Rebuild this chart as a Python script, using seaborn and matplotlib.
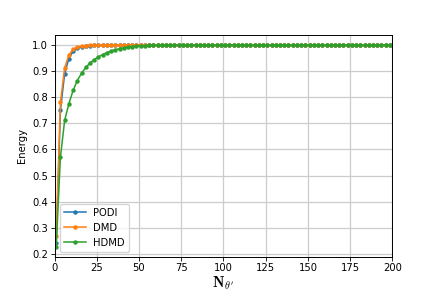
import numpy as np
import pandas as pd
import seaborn as sns
import matplotlib.pyplot as plt

plt.rcParams['mathtext.fontset'] = 'cm'

# number of modes (sampled every 2.5)
n_modes = np.arange(1, 201, 2.5)

podi = [0.24, 0.75, 0.89, 0.948, 0.976, 0.988, 0.994, 0.997, 0.998, 0.999,
        0.9995, 0.9997, 0.9998, 0.9999, 1.0, 1.0, 1.0, 1.0, 1.0, 1.0,
        1.0, 1.0, 1.0, 1.0, 1.0, 1.0, 1.0, 1.0, 1.0, 1.0,
        1.0, 1.0, 1.0, 1.0, 1.0, 1.0, 1.0, 1.0, 1.0, 1.0,
        1.0, 1.0, 1.0, 1.0, 1.0, 1.0, 1.0, 1.0, 1.0, 1.0,
        1.0, 1.0, 1.0, 1.0, 1.0, 1.0, 1.0, 1.0, 1.0, 1.0,
        1.0, 1.0, 1.0, 1.0, 1.0, 1.0, 1.0, 1.0, 1.0, 1.0,
        1.0, 1.0, 1.0, 1.0, 1.0, 1.0, 1.0, 1.0, 1.0, 1.0]

dmd = [0.27, 0.78, 0.912, 0.962, 0.983, 0.992, 0.996, 0.998, 0.999, 0.9995,
       0.9997, 0.9998, 0.9999, 1.0, 1.0, 1.0, 1.0, 1.0, 1.0, 1.0,
       1.0, 1.0, 1.0, 1.0, 1.0, 1.0, 1.0, 1.0, 1.0, 1.0,
       1.0, 1.0, 1.0, 1.0, 1.0, 1.0, 1.0, 1.0, 1.0, 1.0,
       1.0, 1.0, 1.0, 1.0, 1.0, 1.0, 1.0, 1.0, 1.0, 1.0,
       1.0, 1.0, 1.0, 1.0, 1.0, 1.0, 1.0, 1.0, 1.0, 1.0,
       1.0, 1.0, 1.0, 1.0, 1.0, 1.0, 1.0, 1.0, 1.0, 1.0,
       1.0, 1.0, 1.0, 1.0, 1.0, 1.0, 1.0, 1.0, 1.0, 1.0]

hdmd = [0.227, 0.57, 0.711, 0.775, 0.826, 0.864, 0.892, 0.914, 0.931, 0.944,
        0.955, 0.963, 0.971, 0.977, 0.982, 0.986, 0.989, 0.992, 0.994, 0.9955,
        0.9966, 0.9975, 0.9982, 0.9987, 0.9991, 0.9994, 0.9996, 0.9997, 0.9998, 0.9998,
        0.9999, 0.9999, 0.9999, 1.0, 1.0, 1.0, 1.0, 1.0, 1.0, 1.0,
        1.0, 1.0, 1.0, 1.0, 1.0, 1.0, 1.0, 1.0, 1.0, 1.0,
        1.0, 1.0, 1.0, 1.0, 1.0, 1.0, 1.0, 1.0, 1.0, 1.0,
        1.0, 1.0, 1.0, 1.0, 1.0, 1.0, 1.0, 1.0, 1.0, 1.0,
        1.0, 1.0, 1.0, 1.0, 1.0, 1.0, 1.0, 1.0, 1.0, 1.0]

series = {'PODI': podi, 'DMD': dmd, 'HDMD': hdmd}
colors = ['tab:blue', 'tab:orange', 'tab:green']

fig, ax = plt.subplots(figsize=(4.36, 2.91), dpi=100)
fig.subplots_adjust(left=0.125, right=0.9, top=0.88, bottom=0.117)

for (name, vals), c in zip(series.items(), colors):
    sns.lineplot(x=n_modes, y=vals, ax=ax, color=c, marker='o', markersize=3.2,
                 markeredgewidth=0, linewidth=1.1, label=name)

ax.set_xlim(0, 200)
ax.set_xticks([0, 25, 50, 75, 100, 125, 150, 175, 200])
ax.set_yticks([0.2, 0.3, 0.4, 0.5, 0.6, 0.7, 0.8, 0.9, 1.0])
ax.grid(True, color='#cccccc', linewidth=0.9)
ax.set_axisbelow(True)
ax.tick_params(labelsize=7.2, width=0.6, length=2.6, pad=2)
for s in ax.spines.values():
    s.set_linewidth(0.7)
ax.set_ylabel('Energy', fontsize=7.2)
ax.set_xlabel(r'$\mathbf{N}_{\theta^\prime}$', fontsize=10.5, labelpad=1)
ax.legend(loc='lower left', fontsize=7.2, handlelength=2.2)

plt.savefig('out.png', dpi=100)
